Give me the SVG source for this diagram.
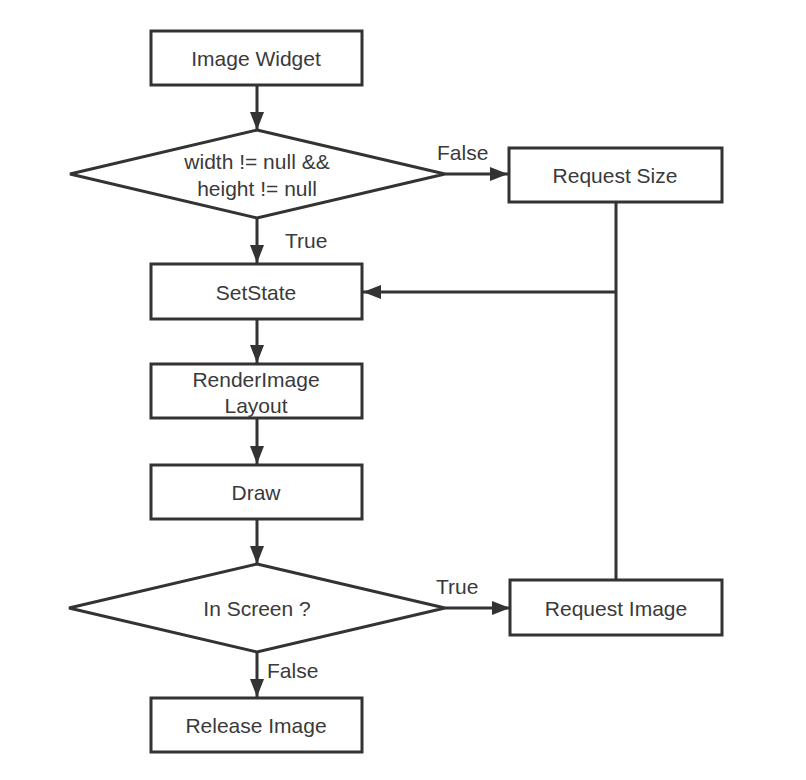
<svg xmlns="http://www.w3.org/2000/svg" width="806" height="780" viewBox="0 0 806 780">
<style>
.n{fill:#fff;stroke:#333;stroke-width:3}
.c{fill:none;stroke:#333;stroke-width:3}
text{font-family:"Liberation Sans",Arial,sans-serif;font-size:21px;fill:#3a3a3a;text-anchor:middle;dominant-baseline:central}
.l{text-anchor:start}
</style>
<defs>
<marker id="a" markerWidth="18" markerHeight="14" refX="18" refY="7" orient="auto" markerUnits="userSpaceOnUse">
<path d="M0,0 L18,7 L0,14 Z" fill="#333"/>
</marker>
</defs>
<rect width="806" height="780" fill="#fff"/>
<g id="connectors">
<line class="c" x1="257" y1="85" x2="257" y2="130" marker-end="url(#a)"/>
<line class="c" x1="445" y1="174" x2="508" y2="174" marker-end="url(#a)"/>
<line class="c" x1="257" y1="218" x2="257" y2="263" marker-end="url(#a)"/>
<line class="c" x1="616" y1="202" x2="616" y2="580"/>
<line class="c" x1="616" y1="292" x2="363" y2="292" marker-end="url(#a)"/>
<line class="c" x1="257" y1="319" x2="257" y2="363" marker-end="url(#a)"/>
<line class="c" x1="257" y1="418" x2="257" y2="464" marker-end="url(#a)"/>
<line class="c" x1="257" y1="519" x2="257" y2="564" marker-end="url(#a)"/>
<line class="c" x1="445" y1="608" x2="510" y2="608" marker-end="url(#a)"/>
<line class="c" x1="257" y1="652" x2="257" y2="697" marker-end="url(#a)"/>
<text class="l" x="437" y="152">False</text>
<text class="l" x="285" y="240">True</text>
<text class="l" x="436" y="586">True</text>
<text class="l" x="267" y="670">False</text>
</g>
<g id="image-widget"><rect class="n" x="151" y="31" width="211" height="54"/><text x="256" y="58">Image Widget</text></g>
<g id="size-check"><polygon class="n" points="257,130 445,174 257,218 70,174"/><text x="257" y="161">width != null &amp;&amp;</text><text x="257" y="188">height != null</text></g>
<g id="request-size"><rect class="n" x="509" y="148" width="213" height="54"/><text x="615" y="175">Request Size</text></g>
<g id="setstate"><rect class="n" x="151" y="264" width="211" height="55"/><text x="256" y="292">SetState</text></g>
<g id="renderimage-layout"><rect class="n" x="151" y="364" width="211" height="54"/><text x="256" y="379">RenderImage</text><text x="256" y="405">Layout</text></g>
<g id="draw"><rect class="n" x="151" y="465" width="211" height="54"/><text x="256" y="492">Draw</text></g>
<g id="in-screen"><polygon class="n" points="257,564 445,608 257,652 69,608"/><text x="257" y="608">In Screen ?</text></g>
<g id="request-image"><rect class="n" x="510" y="580" width="212" height="55"/><text x="616" y="608">Request Image</text></g>
<g id="release-image"><rect class="n" x="151" y="698" width="211" height="54"/><text x="256" y="725">Release Image</text></g>
</svg>
